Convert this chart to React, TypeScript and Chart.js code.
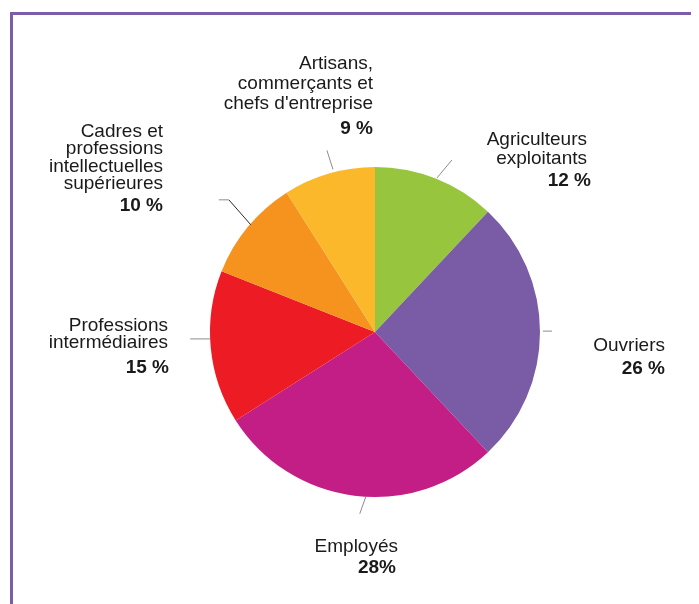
import React, { useEffect, useRef } from "react";
import { Chart, registerables } from "chart.js";

Chart.register(...registerables);

const categories = [
  "Agriculteurs exploitants",
  "Ouvriers",
  "Employés",
  "Professions intermédiaires",
  "Cadres et professions intellectuelles supérieures",
  "Artisans, commerçants et chefs d'entreprise",
];
const values = [12, 26, 28, 15, 10, 9];
const percentLabels = ["12 %", "26 %", "28%", "15 %", "10 %", "9 %"];
const labelLines = [
  ["Agriculteurs", "exploitants"],
  ["Ouvriers"],
  ["Employés"],
  ["Professions", "intermédiaires"],
  ["Cadres et", "professions", "intellectuelles", "supérieures"],
  ["Artisans,", "commerçants et", "chefs d'entreprise"],
];
const colors = ["#97c63e", "#7a5ba6", "#c21e86", "#ed1c24", "#f6931e", "#fbb82a"];

// label layout (styling only): leader angle shift (deg), radial gap, leader path offsets,
// text anchor offset from pie centre, line height, gap to percentage line, percentage x shift
const labelLayout = [
  { shift: 0.3, gap: 1, path: [[15, -18]], dark: [false], tx: 212, ty: -187, lh: 19, pg: 22, pdx: 4 },
  { shift: -0.3, gap: 3, path: [[9, 0]], dark: [false], tx: 290, ty: 19, lh: 19, pg: 22.5, pdx: 0 },
  { shift: -4, gap: 0, path: [[-6, 17]], dark: [false], tx: 23, ty: 220, lh: 19, pg: 21, pdx: -2 },
  { shift: 3, gap: 0, path: [[-20, 0]], dark: [false], tx: -207, ty: -1, lh: 16.5, pg: 25, pdx: 1 },
  { shift: 1.2, gap: -1, path: [[-22, -25], [-32, -25]], dark: [true, false], tx: -212, ty: -195, lh: 17.3, pg: 21.7, pdx: 0 },
  { shift: 1.7, gap: 3, path: [[-6, -19]], dark: [false], tx: -2, ty: -263, lh: 20, pg: 25, pdx: 0 },
];

const FONT = '"Liberation Sans", Arial, Helvetica, sans-serif';

const labelPlugin = {
  id: "pieLabels",
  afterDatasetsDraw(chart: any) {
    const ctx = chart.ctx as CanvasRenderingContext2D;
    const meta = chart.getDatasetMeta(0);
    meta.data.forEach((arc: any, i: number) => {
      const L = labelLayout[i];
      const { x, y, startAngle, endAngle, outerRadius } = arc.getProps(
        ["x", "y", "startAngle", "endAngle", "outerRadius"],
        true
      );
      const a = (startAngle + endAngle) / 2 + (L.shift * Math.PI) / 180;
      const r = outerRadius + L.gap;
      const px = x + r * Math.cos(a);
      const py = y + r * Math.sin(a);
      ctx.save();
      ctx.lineWidth = 1;
      let cx = px;
      let cy = py;
      L.path.forEach((p: number[], k: number) => {
        ctx.beginPath();
        ctx.strokeStyle = L.dark[k] ? "#2a2a2a" : "#8c8c8c";
        ctx.moveTo(cx, cy);
        const nx = px + p[0];
        const ny = py + p[1];
        ctx.lineTo(nx, ny);
        ctx.stroke();
        cx = nx;
        cy = ny;
      });
      ctx.fillStyle = "#1a1a1a";
      ctx.textAlign = "right";
      ctx.textBaseline = "alphabetic";
      ctx.font = `19px ${FONT}`;
      const lines = labelLines[i];
      const tx = x + L.tx;
      const ty = y + L.ty;
      lines.forEach((line, k) => {
        ctx.fillText(line, tx, ty + k * L.lh);
      });
      const last = ty + (lines.length - 1) * L.lh;
      ctx.font = `bold 19px ${FONT}`;
      ctx.fillText(percentLabels[i], tx + L.pdx, last + L.pg);
      ctx.restore();
    });
  },
};

export default function App() {
  const ref = useRef<HTMLCanvasElement | null>(null);
  useEffect(() => {
    if (!ref.current) return;
    const chart = new Chart(ref.current, {
      type: "pie",
      data: {
        labels: categories,
        datasets: [
          {
            data: values,
            backgroundColor: colors,
            borderWidth: 0,
          },
        ],
      },
      options: {
        animation: false,
        responsive: false,
        events: [],
        radius: 165,
        layout: { padding: { left: 43, right: 0, top: 52, bottom: 0 } },
        plugins: {
          legend: { display: false },
          tooltip: { enabled: false },
        },
      } as any,
      plugins: [labelPlugin],
    });
    return () => chart.destroy();
  }, []);

  return (
    <div style={{ position: "relative", width: 691, height: 596, overflow: "hidden", background: "#fff" }}>
      <div
        style={{
          position: "absolute",
          left: 2,
          top: 4,
          width: 800,
          height: 800,
          borderTop: "3px solid #7b5ea7",
          borderLeft: "3px solid #7b5ea7",
        }}
      />
      <canvas ref={ref} width={691} height={596} style={{ position: "absolute", left: 0, top: 0, display: "block" }} />
    </div>
  );
}
